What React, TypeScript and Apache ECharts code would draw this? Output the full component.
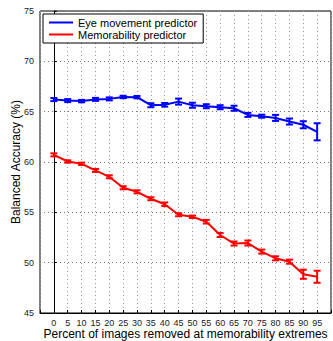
import React, { useEffect, useRef } from "react";
import * as echarts from "echarts";

const percents = [0, 5, 10, 15, 20, 25, 30, 35, 40, 45, 50, 55, 60, 65, 70, 75, 80, 85, 90, 95];
const eyeValues = [66.2, 66.1, 66.05, 66.22, 66.27, 66.46, 66.44, 65.64, 65.68, 66.0, 65.64, 65.54, 65.44, 65.34, 64.68, 64.55, 64.38, 64.02, 63.7, 63.0];
const eyeErrors = [0.15, 0.15, 0.12, 0.15, 0.15, 0.12, 0.12, 0.2, 0.18, 0.3, 0.25, 0.2, 0.2, 0.25, 0.2, 0.15, 0.3, 0.3, 0.35, 0.85];
const memValues = [60.71, 60.05, 59.82, 59.16, 58.53, 57.44, 57.04, 56.35, 55.8, 54.76, 54.56, 54.07, 52.75, 51.9, 51.95, 51.1, 50.43, 50.1, 48.85, 48.6];
const memErrors = [0.15, 0.12, 0.12, 0.15, 0.15, 0.15, 0.15, 0.15, 0.18, 0.15, 0.12, 0.18, 0.2, 0.2, 0.25, 0.2, 0.2, 0.2, 0.45, 0.6];
const yTicks = [45, 50, 55, 60, 65, 70, 75];

const FONT = "Liberation Sans, Arial, Helvetica, sans-serif";

function errorSeries(name: string, color: string, values: number[], errs: number[]) {
  return {
    type: "custom",
    name: name + " err",
    data: percents.map((p, i) => [p, values[i], errs[i]]),
    z: 5,
    silent: true,
    renderItem: (params: any, api: any) => {
      const x = api.value(0);
      const y = api.value(1);
      const e = api.value(2);
      const top = api.coord([x, y + e]);
      const bot = api.coord([x, y - e]);
      const cw = 3.5;
      const style = { stroke: color, lineWidth: 2 };
      return {
        type: "group",
        children: [
          { type: "line", shape: { x1: top[0], y1: top[1], x2: bot[0], y2: bot[1] }, style },
          { type: "line", shape: { x1: top[0] - cw, y1: top[1], x2: top[0] + cw, y2: top[1] }, style },
          { type: "line", shape: { x1: bot[0] - cw, y1: bot[1], x2: bot[0] + cw, y2: bot[1] }, style },
        ],
      };
    },
  };
}

export default function App() {
  const ref = useRef<HTMLDivElement>(null);
  useEffect(() => {
    if (!ref.current) return;
    const chart = echarts.init(ref.current, null, { renderer: "svg" });
    chart.setOption({
      animation: false,
      backgroundColor: "#fff",
      grid: {
        left: 40,
        right: 2,
        top: 11,
        bottom: 28,
        containLabel: false,
        outerBoundsMode: "none",
        show: true,
        borderColor: "#000",
        borderWidth: 1,
        backgroundColor: "transparent",
      },
      legend: {
        left: 43,
        top: 14,
        orient: "vertical",
        itemGap: 1,
        itemWidth: 24,
        itemHeight: 10,
        padding: [3, 6, 3, 6],
        borderColor: "#000",
        borderWidth: 1,
        backgroundColor: "#fff",
        textStyle: { fontFamily: FONT, fontSize: 11, color: "#000", padding: [0, 0, 0, 0] },
        data: [
          { name: "Eye movement predictor", icon: "path://M0,4 L24,4 L24,6 L0,6 Z" },
          { name: "Memorability predictor", icon: "path://M0,4 L24,4 L24,6 L0,6 Z" },
        ],
      },
      xAxis: {
        type: "value",
        min: -5,
        max: 100,
        interval: 5,
        name: "Percent of images removed at memorability extremes",
        nameLocation: "middle",
        nameGap: 15,
        nameMoveOverlap: false,
        nameTextStyle: { fontFamily: FONT, fontSize: 12, color: "#000", verticalAlign: "top" },
        axisLine: { show: true, lineStyle: { color: "#000" } },
        axisTick: { show: true, inside: true, length: 3, lineStyle: { color: "#000" } },
        axisLabel: {
          fontFamily: FONT,
          fontSize: 9,
          color: "#222",
          margin: 5,
          formatter: (v: number) => (v < 0 || v > 95 ? "" : String(v)),
        },
        splitLine: { show: true, lineStyle: { color: "#999", type: [1, 3], width: 1 } },
      },
      yAxis: {
        type: "value",
        min: 45,
        max: 75,
        interval: 5,
        name: "Balanced Accuracy (%)",
        nameLocation: "middle",
        nameGap: 18,
        nameMoveOverlap: false,
        nameTextStyle: { fontFamily: FONT, fontSize: 12, color: "#000" },
        axisLine: { show: true, lineStyle: { color: "#000" } },
        axisTick: { show: true, inside: true, length: 3, lineStyle: { color: "#000" } },
        axisLabel: {
          fontFamily: FONT,
          fontSize: 9,
          color: "#222",
          margin: 6,
          formatter: (v: number) => (yTicks.includes(v) ? String(v) : ""),
        },
        splitLine: { show: true, lineStyle: { color: "#777", type: [1, 3], width: 1 } },
      },
      series: [
        {
          type: "line",
          name: "Eye movement predictor",
          data: percents.map((p, i) => [p, eyeValues[i]]),
          showSymbol: false,
          symbol: "none",
          lineStyle: { color: "#0000ff", width: 2 },
          itemStyle: { color: "#0000ff" },
          z: 4,
        },
        {
          type: "line",
          name: "Memorability predictor",
          data: percents.map((p, i) => [p, memValues[i]]),
          showSymbol: false,
          symbol: "none",
          lineStyle: { color: "#ff0000", width: 2 },
          itemStyle: { color: "#ff0000" },
          z: 4,
        },
        errorSeries("Eye movement predictor", "#0000ff", eyeValues, eyeErrors),
        errorSeries("Memorability predictor", "#ff0000", memValues, memErrors),
      ],
    });
    return () => chart.dispose();
  }, []);
  return <div ref={ref} style={{ width: 333, height: 341, position: "absolute", left: 0, top: 0 }} />;
}
